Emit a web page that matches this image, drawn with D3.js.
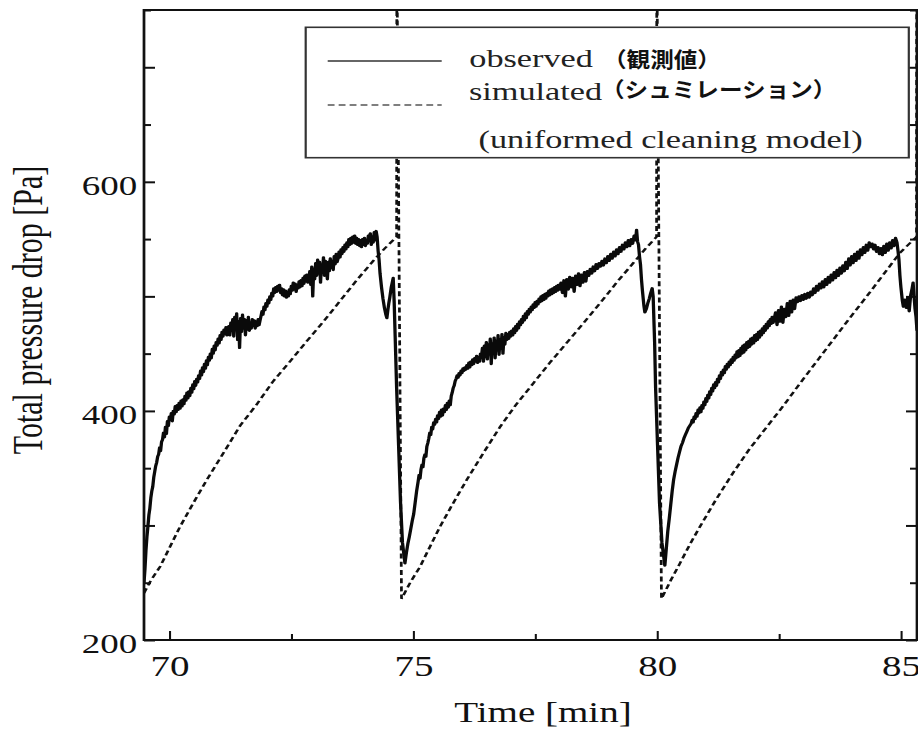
<!DOCTYPE html>
<html>
<head>
<meta charset="utf-8">
<script src="https://cdn.jsdelivr.net/npm/d3@7"></script>
<style>
    html, body { margin: 0; padding: 0; background: #fff; }
    svg { display: block; }
</style>
</head>
<body>
<div id="chart"></div>
<script>
// tick values
const xMajorTicks = [70, 75, 80, 85];
const xMinorTicks = [72.5, 77.5, 82.5];
const yMajorTicks = [200, 300, 400, 500, 600, 700];
const yMinorTicks = [250, 350, 450, 550, 650, 750];
const yTickLabels = [200, 400, 600];

// observed total pressure drop [time min, Pa], one array per filtration cycle
const observedCycle1 = [
    [69.48, 250], [69.50, 262], [69.52, 278], [69.54, 290], [69.56, 299], [69.58, 309], [69.60, 315],
    [69.62, 324], [69.64, 330], [69.66, 334], [69.68, 342], [69.70, 347], [69.72, 352], [69.74, 355],
    [69.76, 360], [69.78, 362], [69.80, 368], [69.82, 365], [69.84, 373], [69.86, 375], [69.88, 381],
    [69.90, 377], [69.92, 386], [69.94, 380], [69.96, 391], [69.98, 387], [70.00, 395], [70.02, 392],
    [70.04, 398], [70.06, 391], [70.08, 400], [70.10, 397], [70.12, 404], [70.14, 399], [70.16, 405],
    [70.18, 401], [70.20, 407], [70.22, 402], [70.24, 409], [70.26, 404], [70.28, 410], [70.30, 406],
    [70.32, 413], [70.34, 409], [70.36, 416], [70.38, 411], [70.40, 417], [70.42, 413], [70.44, 420],
    [70.46, 416], [70.48, 423], [70.50, 419], [70.52, 426], [70.54, 422], [70.56, 428], [70.58, 425],
    [70.60, 431], [70.62, 428], [70.64, 435], [70.66, 431], [70.68, 438], [70.70, 434], [70.72, 441],
    [70.74, 437], [70.76, 444], [70.78, 440], [70.80, 447], [70.82, 444], [70.84, 450], [70.86, 446],
    [70.88, 454], [70.90, 450], [70.92, 457], [70.94, 453], [70.96, 460], [70.98, 457], [71.00, 463],
    [71.02, 459], [71.04, 466], [71.06, 462], [71.08, 469], [71.10, 465], [71.12, 471], [71.14, 467],
    [71.16, 473], [71.18, 466], [71.20, 468], [71.22, 474], [71.24, 466], [71.26, 477], [71.28, 470],
    [71.30, 480], [71.32, 465], [71.34, 482], [71.36, 471], [71.38, 485], [71.40, 462], [71.42, 478],
    [71.44, 455], [71.46, 481], [71.48, 469], [71.50, 484], [71.52, 472], [71.54, 480], [71.56, 466],
    [71.58, 479], [71.60, 471], [71.62, 482], [71.64, 470], [71.66, 477], [71.68, 472], [71.70, 480],
    [71.72, 474], [71.74, 479], [71.76, 472], [71.78, 478], [71.80, 474], [71.82, 480], [71.84, 475],
    [71.86, 479], [71.88, 483], [71.90, 487], [71.92, 484], [71.94, 491], [71.96, 488], [71.98, 494],
    [72.00, 491], [72.02, 497], [72.04, 494], [72.06, 500], [72.08, 497], [72.10, 503], [72.12, 500],
    [72.14, 507], [72.16, 503], [72.18, 508], [72.20, 504], [72.22, 509], [72.24, 505], [72.26, 510],
    [72.28, 503], [72.30, 507], [72.32, 501], [72.34, 506], [72.36, 500], [72.38, 505], [72.40, 499],
    [72.42, 504], [72.44, 500], [72.46, 506], [72.48, 502], [72.50, 509], [72.52, 505], [72.54, 512],
    [72.56, 506], [72.58, 511], [72.60, 504], [72.62, 510], [72.64, 507], [72.66, 513], [72.68, 508],
    [72.70, 514], [72.72, 509], [72.74, 516], [72.76, 511], [72.78, 518], [72.80, 513], [72.82, 519],
    [72.84, 512], [72.86, 514], [72.88, 522], [72.90, 510], [72.92, 526], [72.94, 500], [72.96, 524],
    [72.98, 515], [73.00, 529], [73.02, 518], [73.04, 532], [73.06, 520], [73.08, 530], [73.10, 512],
    [73.12, 528], [73.14, 522], [73.16, 534], [73.18, 518], [73.20, 531], [73.22, 524], [73.24, 515],
    [73.26, 530], [73.28, 522], [73.30, 533], [73.32, 525], [73.34, 531], [73.36, 523], [73.38, 535],
    [73.40, 528], [73.42, 537], [73.44, 530], [73.46, 533], [73.48, 539], [73.50, 534], [73.52, 541],
    [73.54, 537], [73.56, 543], [73.58, 539], [73.60, 545], [73.62, 541], [73.64, 547], [73.66, 543],
    [73.68, 550], [73.70, 545], [73.72, 551], [73.74, 546], [73.76, 552], [73.78, 547], [73.80, 553],
    [73.82, 546], [73.84, 551], [73.86, 545], [73.88, 550], [73.90, 544], [73.92, 549], [73.94, 543],
    [73.96, 550], [73.98, 545], [74.00, 551], [74.02, 544], [74.04, 549], [74.06, 546], [74.08, 553],
    [74.10, 548], [74.12, 555], [74.14, 545], [74.16, 552], [74.18, 547], [74.20, 556], [74.22, 549],
    [74.24, 557], [74.26, 552], [74.28, 540], [74.30, 532], [74.32, 520], [74.35, 508], [74.38, 498],
    [74.41, 490], [74.44, 484], [74.46, 481], [74.48, 488], [74.50, 494], [74.52, 499], [74.55, 508],
    [74.57, 512], [74.59, 516], [74.61, 495], [74.63, 465], [74.66, 420], [74.70, 370], [74.74, 320],
    [74.78, 285], [74.83, 267]
];
const observedCycle2 = [
    [74.86, 276], [74.89, 284], [74.92, 290], [74.95, 297], [74.98, 304], [75.01, 310], [75.04, 320],
    [75.07, 330], [75.10, 338], [75.12, 344], [75.14, 341], [75.16, 349], [75.18, 353], [75.20, 351],
    [75.22, 359], [75.24, 362], [75.26, 360], [75.28, 369], [75.30, 372], [75.32, 376], [75.34, 381],
    [75.36, 379], [75.38, 386], [75.40, 384], [75.42, 390], [75.44, 388], [75.46, 393], [75.48, 390],
    [75.50, 396], [75.52, 393], [75.54, 399], [75.56, 395], [75.58, 401], [75.60, 396], [75.62, 402],
    [75.64, 399], [75.66, 405], [75.68, 401], [75.70, 407], [75.72, 403], [75.74, 409], [75.76, 405],
    [75.78, 413], [75.80, 416], [75.82, 420], [75.84, 422], [75.86, 426], [75.88, 428], [75.90, 431],
    [75.92, 429], [75.94, 433], [75.96, 431], [75.98, 435], [76.00, 433], [76.02, 437], [76.04, 435],
    [76.06, 438], [76.08, 436], [76.10, 440], [76.12, 437], [76.14, 442], [76.16, 438], [76.18, 443],
    [76.20, 440], [76.22, 445], [76.24, 441], [76.26, 446], [76.28, 443], [76.30, 448], [76.32, 442],
    [76.34, 447], [76.36, 443], [76.38, 450], [76.40, 448], [76.42, 455], [76.44, 443], [76.46, 457],
    [76.48, 447], [76.50, 460], [76.52, 445], [76.54, 458], [76.56, 450], [76.58, 463], [76.60, 441],
    [76.62, 459], [76.64, 452], [76.66, 464], [76.68, 446], [76.70, 461], [76.72, 453], [76.74, 466],
    [76.76, 449], [76.78, 462], [76.80, 455], [76.82, 467], [76.84, 450], [76.86, 464], [76.88, 458],
    [76.90, 468], [76.92, 462], [76.94, 467], [76.96, 463], [76.98, 469], [77.00, 465], [77.02, 470],
    [77.04, 466], [77.06, 472], [77.08, 468], [77.10, 474], [77.12, 470], [77.14, 476], [77.16, 472],
    [77.18, 478], [77.20, 475], [77.22, 480], [77.24, 477], [77.26, 483], [77.28, 479], [77.30, 485],
    [77.32, 481], [77.34, 487], [77.36, 484], [77.38, 489], [77.40, 486], [77.42, 491], [77.44, 488],
    [77.46, 493], [77.48, 490], [77.50, 495], [77.52, 491], [77.54, 496], [77.56, 493], [77.58, 498],
    [77.60, 495], [77.62, 500], [77.64, 496], [77.66, 501], [77.68, 497], [77.70, 502], [77.72, 498],
    [77.74, 503], [77.76, 500], [77.78, 505], [77.80, 501], [77.82, 506], [77.84, 502], [77.86, 507],
    [77.88, 503], [77.90, 508], [77.92, 504], [77.94, 509], [77.96, 505], [77.98, 510], [78.00, 506],
    [78.03, 512], [78.06, 503], [78.09, 514], [78.12, 500], [78.15, 515], [78.18, 506], [78.21, 517],
    [78.24, 508], [78.27, 516], [78.30, 504], [78.33, 518], [78.36, 510], [78.39, 520], [78.42, 509],
    [78.45, 519], [78.48, 512], [78.51, 521], [78.54, 513], [78.57, 522], [78.60, 518], [78.63, 524],
    [78.66, 520], [78.69, 526], [78.72, 522], [78.75, 528], [78.78, 524], [78.81, 529], [78.84, 526],
    [78.87, 531], [78.90, 527], [78.93, 533], [78.96, 529], [78.99, 535], [79.02, 531], [79.05, 537],
    [79.08, 533], [79.11, 539], [79.14, 535], [79.17, 541], [79.20, 537], [79.23, 543], [79.26, 539],
    [79.29, 545], [79.32, 541], [79.35, 547], [79.38, 543], [79.41, 549], [79.44, 544], [79.47, 550],
    [79.50, 546], [79.53, 553], [79.56, 549], [79.58, 558], [79.60, 548], [79.62, 545], [79.64, 535],
    [79.66, 528], [79.68, 515], [79.70, 505], [79.73, 492], [79.75, 486], [79.78, 489], [79.81, 494],
    [79.84, 498], [79.87, 503], [79.90, 507], [79.92, 500], [79.95, 460], [79.97, 420], [80.01, 370],
    [80.05, 320], [80.10, 285], [80.16, 265]
];
const observedCycle3 = [
    [80.19, 280], [80.22, 295], [80.25, 306], [80.28, 318], [80.31, 330], [80.34, 340], [80.37, 347],
    [80.40, 353], [80.43, 359], [80.46, 364], [80.49, 369], [80.52, 372], [80.55, 376], [80.58, 379],
    [80.61, 382], [80.64, 385], [80.67, 387], [80.70, 389], [80.72, 392], [80.74, 390], [80.76, 395],
    [80.78, 393], [80.80, 398], [80.82, 395], [80.84, 401], [80.86, 398], [80.88, 403], [80.90, 399],
    [80.92, 405], [80.94, 402], [80.96, 408], [80.98, 405], [81.00, 411], [81.02, 408], [81.04, 414],
    [81.06, 411], [81.08, 417], [81.10, 414], [81.12, 420], [81.14, 417], [81.16, 423], [81.18, 420],
    [81.20, 425], [81.22, 422], [81.24, 428], [81.26, 425], [81.28, 431], [81.30, 428], [81.32, 434],
    [81.34, 431], [81.36, 436], [81.38, 433], [81.40, 439], [81.42, 436], [81.44, 441], [81.46, 438],
    [81.48, 443], [81.50, 440], [81.52, 445], [81.54, 442], [81.56, 447], [81.58, 444], [81.60, 449],
    [81.62, 446], [81.64, 452], [81.66, 447], [81.68, 453], [81.70, 448], [81.72, 455], [81.74, 450],
    [81.76, 457], [81.78, 451], [81.80, 458], [81.82, 453], [81.84, 460], [81.86, 455], [81.88, 461],
    [81.90, 456], [81.92, 463], [81.94, 458], [81.96, 464], [81.98, 459], [82.00, 466], [82.02, 461],
    [82.04, 467], [82.06, 462], [82.08, 469], [82.10, 464], [82.12, 470], [82.14, 466], [82.16, 472],
    [82.18, 468], [82.20, 474], [82.22, 470], [82.24, 476], [82.26, 472], [82.28, 478], [82.30, 474],
    [82.32, 480], [82.34, 476], [82.36, 482], [82.38, 477], [82.40, 480], [82.43, 486], [82.46, 475],
    [82.49, 488], [82.52, 478], [82.55, 491], [82.58, 477], [82.61, 489], [82.64, 482], [82.67, 494],
    [82.70, 483], [82.73, 496], [82.76, 486], [82.79, 497], [82.82, 489], [82.85, 499], [82.88, 495],
    [82.91, 500], [82.94, 496], [82.97, 501], [83.00, 497], [83.03, 502], [83.06, 498], [83.09, 503],
    [83.12, 499], [83.15, 504], [83.18, 501], [83.21, 507], [83.24, 503], [83.27, 509], [83.30, 505],
    [83.33, 511], [83.36, 507], [83.39, 513], [83.42, 508], [83.45, 515], [83.48, 510], [83.51, 517],
    [83.54, 512], [83.57, 519], [83.60, 514], [83.63, 521], [83.66, 516], [83.69, 523], [83.72, 518],
    [83.75, 525], [83.78, 520], [83.81, 527], [83.84, 522], [83.87, 530], [83.90, 524], [83.93, 533],
    [83.96, 527], [83.99, 535], [84.02, 529], [84.05, 537], [84.08, 531], [84.11, 539], [84.14, 533],
    [84.17, 541], [84.20, 536], [84.23, 543], [84.26, 538], [84.29, 545], [84.32, 540], [84.35, 547],
    [84.38, 543], [84.41, 546], [84.44, 541], [84.47, 545], [84.50, 539], [84.53, 543], [84.56, 537],
    [84.59, 542], [84.62, 536], [84.65, 544], [84.68, 538], [84.71, 546], [84.74, 540], [84.77, 547],
    [84.80, 542], [84.83, 549], [84.86, 544], [84.89, 551], [84.92, 547], [84.94, 540], [84.96, 532],
    [84.98, 518], [85.00, 508], [85.03, 496], [85.05, 491], [85.08, 497], [85.11, 490], [85.14, 499],
    [85.17, 487], [85.20, 501], [85.23, 507], [85.25, 512], [85.27, 500], [85.29, 489], [85.31, 482],
    [85.33, 470]
];

// simulated (uniformed cleaning model), with the pulse spikes at each cleaning
const simulatedCycle1 = [
    [69.48, 241], [69.62, 252], [69.81, 264], [70.02, 282], [70.22, 299], [70.47, 318], [70.77, 340],
    [71.12, 364], [71.45, 387], [71.78, 405], [72.13, 426], [72.47, 443], [72.82, 461], [73.16, 478],
    [73.50, 496], [73.84, 514], [74.18, 531], [74.42, 542], [74.66, 552], [74.665, 800], [74.76, 236]
];
const simulatedCycle2 = [
    [74.95, 251], [75.14, 264], [75.35, 282], [75.55, 299], [75.80, 318], [76.10, 340], [76.45, 364],
    [76.78, 386], [77.10, 405], [77.46, 424], [77.80, 442], [78.14, 459], [78.50, 477], [78.83, 494],
    [79.17, 512], [79.51, 529], [79.75, 541], [79.99, 552], [79.995, 800], [80.09, 236]
];
const simulatedCycle3 = [
    [80.28, 252], [80.47, 267], [80.68, 284], [80.88, 299], [81.20, 322], [81.56, 346], [81.90, 367],
    [82.25, 386], [82.60, 405], [82.93, 424], [83.27, 443], [83.61, 462], [83.95, 481], [84.30, 500],
    [84.64, 519], [84.98, 538], [85.32, 552], [85.325, 800]
];

const observed = [...observedCycle1, ...observedCycle2, ...observedCycle3];
const simulated = [...simulatedCycle1, ...simulatedCycle2, ...simulatedCycle3];

// the source figure is stretched sideways, so draw in a narrower viewBox
const SX = 1.37;
const W = 918, H = 729;
const VBW = W / SX;
const plot = { left: 144 / SX, right: 917 / SX, top: 10, bottom: 640 };
const serif = '"Liberation Serif", "Times New Roman", serif';

const x = d3.scaleLinear().domain([69.48, 85.33]).range([plot.left, plot.right]);
const y = d3.scaleLinear().domain([200, 750]).range([plot.bottom, plot.top]);

const svg = d3.select('#chart').append('svg')
    .attr('width', W)
    .attr('height', H)
    .attr('viewBox', `0 0 ${VBW} ${H}`)
    .attr('preserveAspectRatio', 'none');

svg.append('defs').append('clipPath')
    .attr('id', 'plot-clip')
    .append('rect')
    .attr('x', plot.left)
    .attr('y', plot.top)
    .attr('width', plot.right - plot.left)
    .attr('height', plot.bottom - plot.top);

function styleAxis(g, width) {
    g.select('.domain').remove();
    g.selectAll('.tick line').attr('stroke', '#111').attr('stroke-width', width);
    g.selectAll('.tick text').attr('fill', '#111').attr('font-family', serif);
}

// x axis
svg.append('g')
    .attr('transform', `translate(0,${plot.bottom})`)
    .call(d3.axisBottom(x).tickValues(xMajorTicks).tickSize(-9).tickFormat(d3.format('d')))
    .call(g => styleAxis(g, 1.5))
    .call(g => g.selectAll('.tick text').attr('y', 36).attr('dy', 0).attr('font-size', 28.5));

svg.append('g')
    .attr('transform', `translate(0,${plot.bottom})`)
    .call(d3.axisBottom(x).tickValues(xMinorTicks).tickSize(-6).tickFormat(''))
    .call(g => styleAxis(g, 1.5));

// y axis, left with labels
svg.append('g')
    .attr('transform', `translate(${plot.left},0)`)
    .call(d3.axisLeft(y).tickValues(yMajorTicks).tickSize(-11 / SX).tickPadding(5)
        .tickFormat(d => yTickLabels.includes(d) ? d : ''))
    .call(g => styleAxis(g, 2))
    .call(g => g.selectAll('.tick text').attr('dy', '0.47em').attr('font-size', 27));

svg.append('g')
    .attr('transform', `translate(${plot.left},0)`)
    .call(d3.axisLeft(y).tickValues(yMinorTicks).tickSize(-7 / SX).tickFormat(''))
    .call(g => styleAxis(g, 2));

// right side ticks
svg.append('g')
    .attr('transform', `translate(${plot.right},0)`)
    .call(d3.axisRight(y).tickValues(yMajorTicks).tickSize(-11 / SX).tickFormat(''))
    .call(g => styleAxis(g, 2));

svg.append('g')
    .attr('transform', `translate(${plot.right},0)`)
    .call(d3.axisRight(y).tickValues(yMinorTicks).tickSize(-7 / SX).tickFormat(''))
    .call(g => styleAxis(g, 2));

// data lines
const line = d3.line().x(d => x(d[0])).y(d => y(d[1]));
const lines = svg.append('g').attr('clip-path', 'url(#plot-clip)');

lines.append('path')
    .datum(simulated)
    .attr('fill', 'none')
    .attr('stroke', '#111')
    .attr('stroke-width', 2)
    .attr('stroke-dasharray', '5,3.2')
    .attr('d', line);

lines.append('path')
    .datum(observed)
    .attr('fill', 'none')
    .attr('stroke', '#0a0a0a')
    .attr('stroke-width', 2.4)
    .attr('stroke-linejoin', 'round')
    .attr('d', line);

// frame
svg.append('rect')
    .attr('x', plot.left)
    .attr('y', plot.top)
    .attr('width', plot.right - plot.left)
    .attr('height', plot.bottom - plot.top)
    .attr('fill', 'none')
    .attr('stroke', '#111')
    .attr('stroke-width', 2);

// axis titles
svg.append('text')
    .attr('x', 543 / SX)
    .attr('y', 722)
    .attr('text-anchor', 'middle')
    .attr('font-family', serif)
    .attr('font-size', 28.5)
    .attr('fill', '#111')
    .text('Time [min]');

svg.append('text')
    .attr('transform', `translate(${41.5 / SX},310) rotate(-90)`)
    .attr('text-anchor', 'middle')
    .attr('font-family', serif)
    .attr('font-size', 30)
    .attr('fill', '#111')
    .text('Total pressure drop [Pa]');

// legend
const legend = svg.append('g').attr('class', 'legend');

legend.append('rect')
    .attr('x', 305.7 / SX)
    .attr('y', 27.3)
    .attr('width', (908.8 - 305.7) / SX)
    .attr('height', 130.4)
    .attr('fill', '#fff')
    .attr('stroke', '#333')
    .attr('stroke-width', 1.6);

legend.append('line')
    .attr('x1', 327.7 / SX).attr('x2', 441.7 / SX)
    .attr('y1', 61).attr('y2', 61)
    .attr('stroke', '#333').attr('stroke-width', 1.6);

legend.append('line')
    .attr('x1', 327.7 / SX).attr('x2', 441.7 / SX)
    .attr('y1', 105).attr('y2', 105)
    .attr('stroke', '#555').attr('stroke-width', 1.6)
    .attr('stroke-dasharray', '5,3');

const legendTexts = [
    { text: 'observed', x: 469.3, y: 67 },
    { text: 'simulated', x: 469, y: 100 },
    { text: '(uniformed cleaning model)', x: 478.6, y: 148 }
];

legend.selectAll('.legend-label')
    .data(legendTexts)
    .enter()
    .append('text')
    .attr('class', 'legend-label')
    .attr('x', d => d.x / SX)
    .attr('y', d => d.y)
    .attr('font-family', serif)
    .attr('font-size', 25)
    .attr('fill', '#222')
    .text(d => d.text);

// japanese notes, not stretched as much as the rest
const jpTexts = [
    { text: '（観測値）', x: 603, y: 67 },
    { text: '（シュミレーション）', x: 601, y: 96.5 }
];

legend.selectAll('.jp-label')
    .data(jpTexts)
    .enter()
    .append('text')
    .attr('class', 'jp-label')
    .attr('transform', d => `translate(${d.x / SX},${d.y}) scale(0.82,1)`)
    .attr('font-family', '"Noto Sans CJK JP", "Noto Sans CJK SC", sans-serif')
    .attr('font-size', 21)
    .attr('font-weight', 'bold')
    .attr('fill', '#111')
    .text(d => d.text);
</script>
</body>
</html>
